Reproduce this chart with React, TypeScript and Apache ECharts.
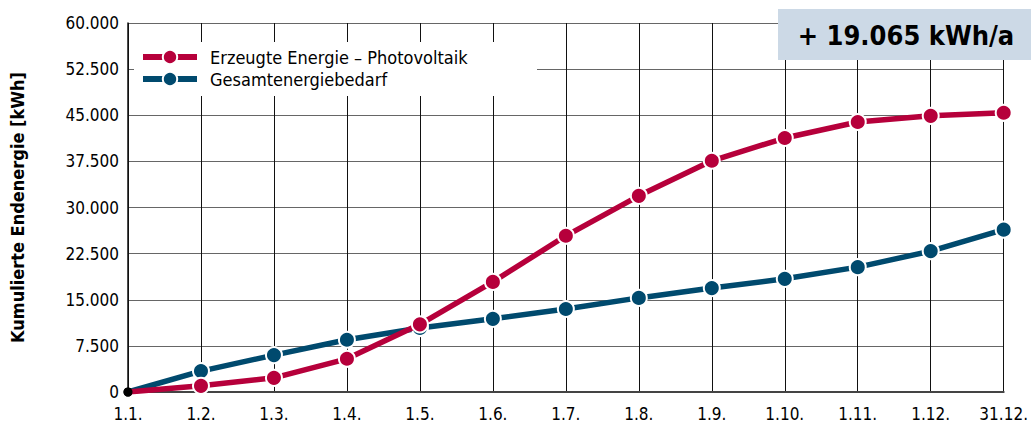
import React, { useEffect, useRef } from "react";
import * as echarts from "echarts";

const categories = ["1.1.", "1.2.", "1.3.", "1.4.", "1.5.", "1.6.", "1.7.", "1.8.", "1.9.", "1.10.", "1.11.", "1.12.", "31.12."];
const pvValues = [0, 1000, 2300, 5400, 11000, 17900, 25400, 31900, 37600, 41300, 43900, 44900, 45400];
const demandValues = [0, 3400, 6000, 8500, 10400, 11900, 13500, 15300, 16900, 18400, 20300, 22900, 26400];
const seriesNames = ["Erzeugte Energie – Photovoltaik", "Gesamtenergiebedarf"];
const yAxisName = "Kumulierte Endenergie [kWh]";
const badgeText = "+ 19.065 kWh/a";

const FONT = '"Liberation Sans Narrow", "DejaVu Sans Condensed", "Roboto Condensed", sans-serif';
const RED = "#B6003B";
const BLUE = "#004A6E";

function withStart(values: number[]) {
  return values.map((v, i) =>
    i === 0 ? { value: v, symbolSize: 9, itemStyle: { color: "#000", borderWidth: 0 } } : v
  );
}

function fmt(v: number) {
  return String(Math.round(v)).replace(/\B(?=(\d{3})+(?!\d))/g, ".");
}

export default function App() {
  const ref = useRef<HTMLDivElement>(null);
  useEffect(() => {
    if (!ref.current) return;
    const chart = echarts.init(ref.current, undefined, { renderer: "svg" });
    chart.setOption({
      animation: false,
      textStyle: { fontFamily: FONT },
      grid: { left: 123, right: 25, top: 23, bottom: 38, containLabel: false },
      xAxis: {
        type: "category",
        data: categories,
        boundaryGap: false,
        axisLine: { lineStyle: { color: "#444", width: 2 } },
        axisTick: { show: false },
        axisLabel: { color: "#000", fontSize: 17, fontFamily: FONT, margin: 13 },
        splitLine: { show: true, lineStyle: { color: "#111", width: 1 } },
      },
      yAxis: {
        type: "value",
        min: 0,
        max: 60000,
        interval: 7500,
        name: yAxisName,
        nameLocation: "middle",
        nameGap: 102,
        nameTextStyle: { color: "#000", fontSize: 18, fontWeight: "bold", fontFamily: FONT },
        axisLine: { show: true, lineStyle: { color: "#111", width: 1.5 } },
        axisTick: { show: false },
        axisLabel: { color: "#000", fontSize: 17, fontFamily: FONT, margin: 9, formatter: (v: number) => fmt(v) },
        splitLine: { show: true, lineStyle: { color: "#666", width: 1 } },
      },
      legend: {
        data: seriesNames,
        orient: "vertical",
        left: 140,
        top: 48,
        itemWidth: 54,
        itemHeight: 18,
        itemGap: 4,
        padding: 0,
        z: 6,
        lineStyle: { width: 6 },
        textStyle: { color: "#000", fontSize: 18, fontFamily: FONT, padding: [0, 0, 0, 8] },
      },
      graphic: [
        { type: "rect", z: 4, shape: { x: 134, y: 42, width: 403, height: 54 }, style: { fill: "#fff" } },
        { type: "rect", z: 4, shape: { x: 778, y: 9, width: 253, height: 51 }, style: { fill: "#CCD9E6" } },
        {
          type: "text",
          z: 5,
          x: 906,
          y: 35,
          style: {
            text: badgeText,
            fill: "#000",
            fontSize: 27,
            fontWeight: "bold",
            fontFamily: FONT,
            align: "center",
            verticalAlign: "middle",
          },
        },
      ],
      series: [
        {
          name: seriesNames[0],
          type: "line",
          z: 3,
          data: withStart(pvValues),
          symbol: "circle",
          symbolSize: 16,
          lineStyle: { color: RED, width: 5.5 },
          itemStyle: { color: RED, borderColor: "#fff", borderWidth: 2 },
        },
        {
          name: seriesNames[1],
          type: "line",
          z: 2,
          data: withStart(demandValues),
          symbol: "circle",
          symbolSize: 16,
          lineStyle: { color: BLUE, width: 5.5 },
          itemStyle: { color: BLUE, borderColor: "#fff", borderWidth: 2 },
        },
      ],
    });
    return () => chart.dispose();
  }, []);
  return <div ref={ref} style={{ width: 1031, height: 430, position: "absolute", left: 0, top: 0 }} />;
}
